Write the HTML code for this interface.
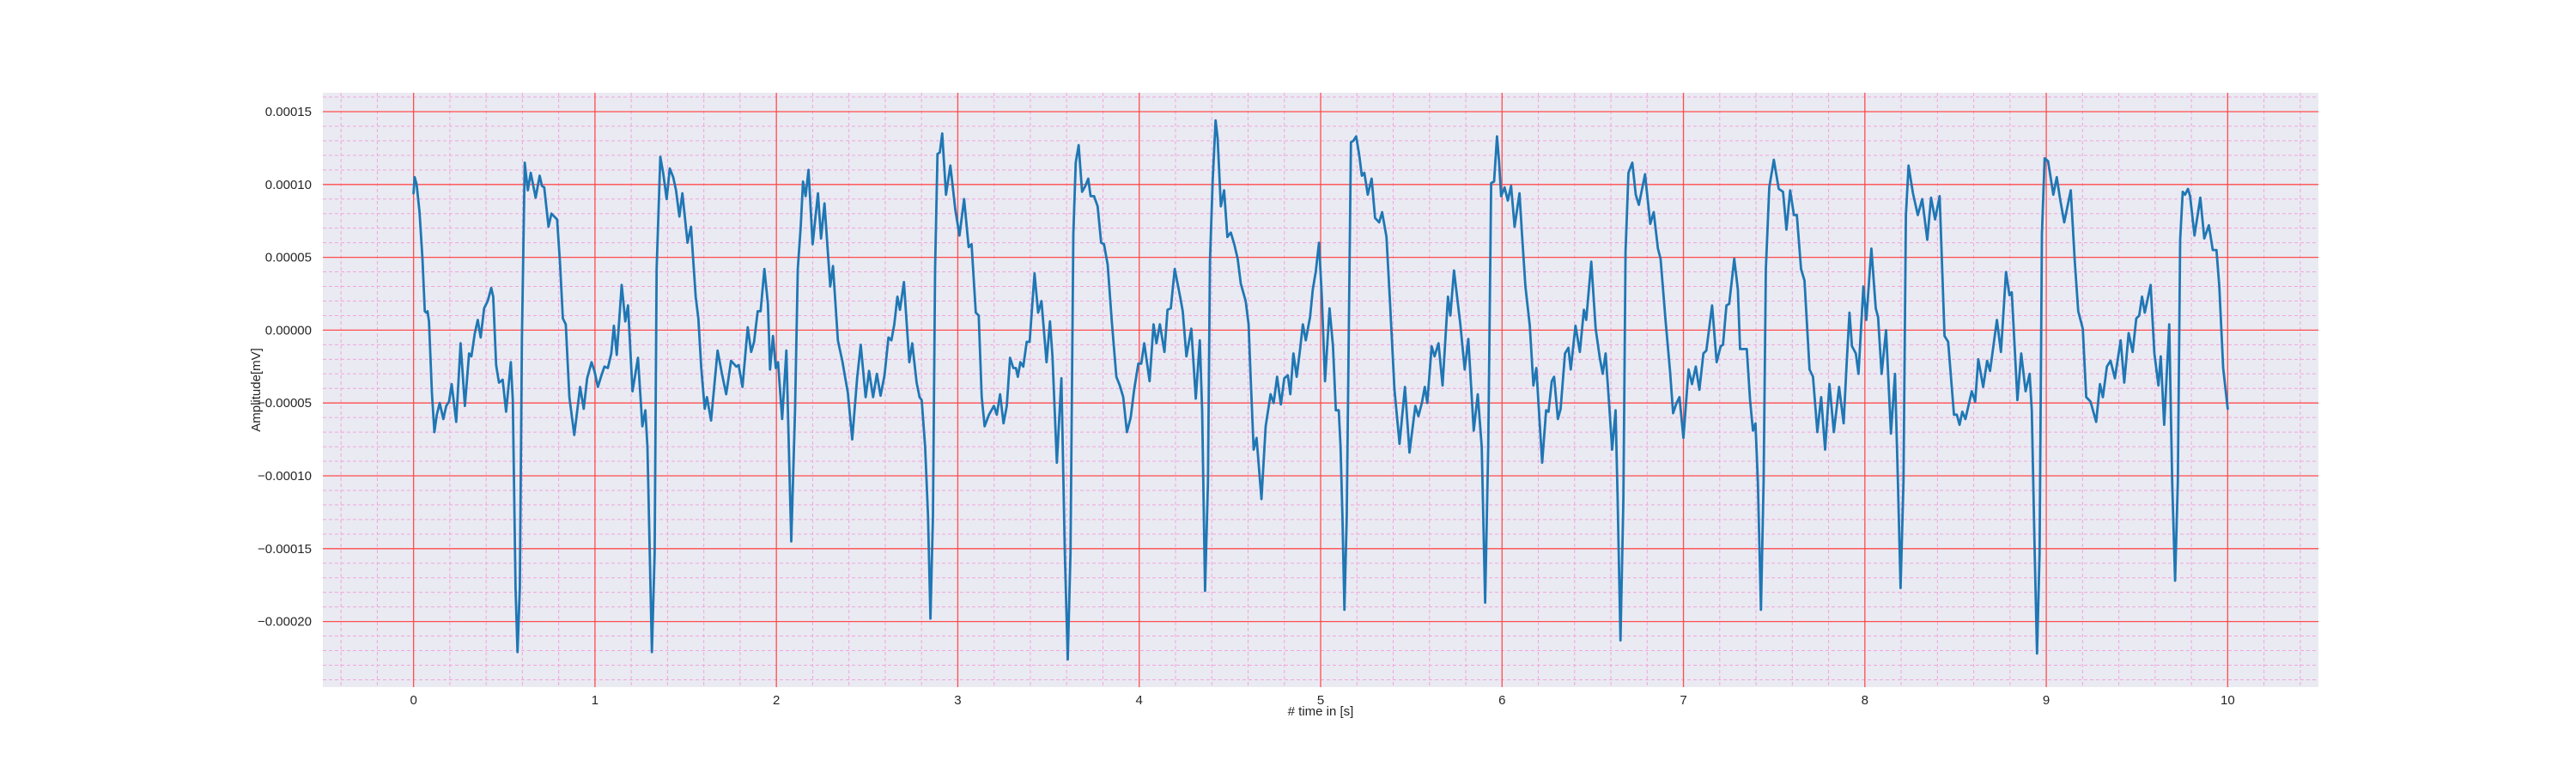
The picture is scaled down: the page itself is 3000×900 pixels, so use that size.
<!DOCTYPE html>
<html><head><meta charset="utf-8"><style>
html,body{margin:0;padding:0;background:#fff;}
svg{display:block;font-family:"Liberation Sans",sans-serif;}
</style></head><body>
<svg id="chart" width="3000" height="900" viewBox="0 0 3000 900" xmlns="http://www.w3.org/2000/svg">
<rect x="0" y="0" width="3000" height="900" fill="#ffffff"/>
<rect x="376" y="108" width="2324" height="692" fill="#eaeaf2"/>
<g id="minor-grid"></g>
<g id="major-grid"></g>
<g id="series"></g>
<g id="xticks"></g>
<g id="yticks"></g>
<text x="1538" y="833" font-size="15" fill="#262626" text-anchor="middle"># time in [s]</text>
<text x="0" y="0" font-size="15" fill="#262626" text-anchor="middle" transform="translate(303,454) rotate(-90)">Amplitude[mV]</text>
</svg>
<script>
const timeSeconds = [0,0.006,0.017,0.033,0.049,0.062,0.07,0.077,0.085,0.101,0.115,0.128,0.144,0.164,0.18,0.196,0.21,0.235,0.259,0.283,0.306,0.319,0.338,0.354,0.37,0.389,0.409,0.428,0.439,0.455,0.471,0.491,0.51,0.536,0.547,0.562,0.573,0.586,0.597,0.613,0.63,0.646,0.673,0.695,0.708,0.72,0.744,0.76,0.791,0.807,0.823,0.839,0.859,0.886,0.918,0.938,0.957,0.981,0.997,1.016,1.033,1.052,1.071,1.09,1.104,1.12,1.147,1.167,1.182,1.207,1.237,1.261,1.278,1.289,1.302,1.314,1.329,1.34,1.36,1.376,1.395,1.412,1.431,1.447,1.465,1.482,1.51,1.529,1.555,1.57,1.586,1.605,1.617,1.64,1.676,1.7,1.723,1.75,1.779,1.792,1.813,1.842,1.861,1.877,1.897,1.913,1.934,1.953,1.965,1.981,1.997,2.009,2.032,2.055,2.082,2.103,2.118,2.134,2.147,2.161,2.177,2.2,2.229,2.246,2.265,2.297,2.312,2.339,2.363,2.394,2.418,2.445,2.465,2.492,2.511,2.533,2.554,2.574,2.596,2.618,2.634,2.65,2.667,2.681,2.703,2.733,2.749,2.773,2.789,2.801,2.82,2.836,2.849,2.863,2.875,2.888,2.901,2.914,2.935,2.959,2.986,3.009,3.035,3.06,3.076,3.099,3.115,3.132,3.148,3.172,3.199,3.215,3.233,3.252,3.27,3.288,3.306,3.32,3.331,3.345,3.361,3.38,3.396,3.423,3.443,3.461,3.489,3.508,3.522,3.546,3.571,3.59,3.606,3.621,3.637,3.65,3.666,3.685,3.703,3.719,3.732,3.751,3.771,3.79,3.806,3.826,3.849,3.874,3.893,3.912,3.932,3.953,3.972,3.995,4.011,4.028,4.057,4.079,4.095,4.114,4.139,4.156,4.174,4.196,4.227,4.24,4.26,4.287,4.312,4.334,4.347,4.363,4.379,4.39,4.405,4.421,4.432,4.45,4.468,4.486,4.505,4.524,4.543,4.56,4.587,4.603,4.614,4.631,4.647,4.674,4.697,4.724,4.741,4.76,4.781,4.8,4.819,4.833,4.85,4.868,4.886,4.902,4.918,4.942,4.957,4.973,4.991,5.006,5.024,5.049,5.068,5.084,5.1,5.11,5.12,5.131,5.144,5.155,5.167,5.181,5.196,5.213,5.227,5.241,5.26,5.281,5.3,5.323,5.339,5.363,5.383,5.407,5.435,5.465,5.49,5.522,5.539,5.558,5.574,5.588,5.612,5.628,5.65,5.672,5.702,5.715,5.735,5.77,5.794,5.814,5.844,5.866,5.888,5.907,5.924,5.94,5.956,5.972,5.984,5.995,6.014,6.032,6.05,6.069,6.096,6.11,6.129,6.153,6.173,6.189,6.203,6.221,6.243,6.256,6.274,6.287,6.308,6.323,6.347,6.366,6.379,6.405,6.429,6.451,6.464,6.492,6.516,6.539,6.555,6.571,6.59,6.607,6.626,6.637,6.653,6.669,6.681,6.697,6.718,6.737,6.754,6.788,6.817,6.836,6.859,6.874,6.902,6.926,6.943,6.962,6.978,7.0,7.028,7.047,7.068,7.088,7.11,7.126,7.158,7.183,7.205,7.218,7.237,7.252,7.28,7.3,7.312,7.349,7.367,7.383,7.397,7.41,7.427,7.442,7.454,7.473,7.498,7.525,7.549,7.568,7.588,7.609,7.625,7.648,7.667,7.695,7.714,7.738,7.759,7.781,7.805,7.829,7.858,7.883,7.899,7.915,7.929,7.95,7.965,7.992,8.008,8.036,8.06,8.073,8.092,8.117,8.144,8.166,8.182,8.197,8.213,8.226,8.241,8.265,8.292,8.316,8.344,8.365,8.387,8.412,8.439,8.459,8.491,8.507,8.522,8.537,8.554,8.589,8.608,8.625,8.652,8.674,8.69,8.728,8.75,8.778,8.797,8.81,8.841,8.862,8.886,8.908,8.92,8.936,8.949,8.963,8.976,8.991,9.01,9.039,9.058,9.075,9.099,9.135,9.157,9.176,9.201,9.22,9.244,9.275,9.296,9.312,9.334,9.354,9.378,9.41,9.43,9.454,9.476,9.496,9.512,9.528,9.543,9.575,9.596,9.618,9.631,9.65,9.678,9.694,9.71,9.725,9.738,9.752,9.765,9.781,9.793,9.817,9.849,9.871,9.896,9.918,9.938,9.954,9.975,10.0];
const amplitudeE5 = [9.4,10.5,10.0,8.1,4.9,1.3,1.2,1.3,0.6,-4.3,-7.0,-5.8,-5.0,-6.1,-5.2,-4.9,-3.7,-6.3,-0.9,-5.2,-1.6,-1.8,-0.2,0.7,-0.5,1.5,2.0,2.9,2.3,-2.4,-3.6,-3.4,-5.6,-2.2,-4.8,-17.7,-22.1,-17.7,-0.7,11.5,9.6,10.8,9.1,10.6,9.9,9.8,7.1,8.0,7.6,4.7,0.8,0.4,-4.6,-7.2,-3.9,-5.4,-3.3,-2.2,-2.8,-3.9,-3.2,-2.5,-2.6,-1.6,0.3,-1.7,3.1,0.6,1.7,-4.2,-1.9,-6.6,-5.5,-8.0,-15.3,-22.1,-15.3,4.2,11.9,10.8,9.0,11.1,10.5,9.6,7.8,9.4,6.0,7.1,2.3,0.8,-2.6,-5.4,-4.6,-6.2,-1.4,-3.0,-4.4,-2.1,-2.5,-2.4,-3.9,0.2,-1.5,-0.8,1.3,1.3,4.2,1.8,-2.7,-0.4,-2.6,-2.2,-6.1,-1.4,-14.5,-5.5,4.2,7.1,10.2,9.2,11.0,5.9,9.4,6.3,8.7,3.0,4.4,-0.7,-2.1,-4.3,-7.5,-3.3,-1.0,-4.6,-2.8,-4.6,-3.0,-4.5,-3.1,-0.5,-0.7,0.4,2.3,1.4,3.3,-2.2,-0.9,-3.6,-4.6,-4.8,-8.0,-12.8,-19.8,-12.8,4.2,12.1,12.2,13.5,9.3,11.3,8.3,6.5,9.0,5.7,5.9,1.2,1.0,-4.6,-6.6,-5.8,-5.2,-5.8,-4.4,-6.4,-5.2,-1.9,-2.6,-2.6,-3.2,-2.2,-2.5,-0.8,-0.8,3.9,1.2,2.0,-2.2,0.6,-1.8,-9.1,-3.3,-15.3,-22.6,-15.3,6.6,11.5,12.7,9.5,9.9,10.4,9.2,9.2,8.5,6.0,5.9,4.5,0.6,-3.2,-3.8,-4.6,-7.0,-6.0,-4.1,-2.3,-2.3,-0.9,-3.5,0.4,-0.9,0.4,-1.5,1.4,1.5,4.2,2.2,1.3,-1.8,0.1,-4.7,-0.7,-5.5,-17.9,-10.4,4.7,10.3,14.4,13.2,8.5,9.6,6.4,6.7,5.9,4.9,3.2,2.0,0.4,-3.1,-8.2,-7.4,-11.6,-6.6,-4.4,-5.0,-3.2,-5.1,-3.3,-3.1,-4.4,-1.6,-3.2,-1.4,0.4,-0.7,0.9,2.8,4.0,6.0,2.4,-3.5,1.5,-1.1,-5.5,-5.5,-8.0,-12.8,-19.2,-12.8,-0.7,12.9,13.0,13.3,12.0,10.6,10.8,9.3,10.4,7.7,7.4,8.1,6.4,1.8,-4.1,-7.8,-3.9,-8.4,-5.2,-5.9,-5.0,-3.9,-5.0,-1.1,-1.8,-0.9,-3.8,2.3,1.0,4.1,0.4,-2.7,-0.6,-6.9,-4.4,-8.0,-18.7,-8.0,10.1,10.2,13.3,11.5,9.2,9.8,8.9,9.9,7.1,9.4,6.6,3.0,0.3,-3.8,-2.6,-5.5,-9.1,-5.5,-5.6,-3.5,-3.2,-6.1,-5.4,-1.6,-1.2,-2.7,0.3,-1.5,1.4,0.7,4.7,0.1,-1.9,-3.0,-1.6,-5.0,-8.2,-5.5,-11.6,-21.3,-11.6,5.4,10.8,11.5,9.3,8.6,10.7,7.3,8.1,5.6,4.9,0.6,-2.8,-5.7,-5.0,-4.6,-7.4,-2.7,-3.7,-2.5,-4.1,-1.6,-1.4,1.7,-2.2,-1.1,-1.0,1.7,1.8,4.9,2.8,-1.3,-1.3,-4.8,-6.9,-6.4,-10.4,-19.2,-10.4,4.2,9.8,11.7,9.7,9.5,6.9,9.6,7.9,7.9,4.2,3.4,-2.7,-3.2,-7.0,-4.6,-8.2,-3.7,-7.0,-3.9,-6.4,-2.4,1.2,-1.1,-1.6,-3.0,3.0,0.7,5.6,1.5,0.9,-3.0,0.0,-7.1,-3.0,-10.4,-17.7,-10.4,7.9,11.3,9.4,7.9,9.0,6.2,9.1,7.6,9.2,-0.4,-0.8,-5.8,-5.8,-6.5,-5.6,-6.1,-4.2,-4.9,-2.0,-3.9,-2.1,-2.8,0.7,-1.5,4.0,2.4,2.6,-4.8,-1.6,-4.2,-3.0,-5.5,-15.3,-22.2,-15.3,6.6,11.8,11.6,9.3,10.5,9.1,7.4,9.6,4.7,1.3,0.1,-4.6,-4.9,-6.3,-3.7,-4.6,-2.5,-2.1,-3.3,-0.7,-3.6,-0.2,-1.5,0.8,1.0,2.3,1.2,3.1,-1.6,-3.8,-1.8,-6.5,0.4,-10.4,-17.2,-10.4,6.2,9.5,9.3,9.7,9.2,6.5,9.1,6.3,7.2,5.5,5.5,3.0,-2.6,-5.4];
const amplitudeScale = 1e-5;
const xTickValues = [0,1,2,3,4,5,6,7,8,9,10];
const yTickValues = [0.00015,0.0001,0.00005,0,-0.00005,-0.0001,-0.00015,-0.0002];
const yTickLabels = ["0.00015","0.00010","0.00005","0.00000","\u22120.00005","\u22120.00010","\u22120.00015","\u22120.00020"];

const NS="http://www.w3.org/2000/svg";
const PL=376,PR=2700,PT=108,PB=800;
const XMIN=-0.5,XMAX=10.5;
const YMAX=(384.4-PT)/1696000, YMIN=-(PB-384.4)/1696000;
function xs(t){return PL+(t-XMIN)/(XMAX-XMIN)*(PR-PL);}
function ys(v){return PT+(YMAX-v)/(YMAX-YMIN)*(PB-PT);}
function mk(tag,attrs,parent){const e=document.createElementNS(NS,tag);for(const k in attrs)e.setAttribute(k,attrs[k]);parent.appendChild(e);return e;}

const minor=document.getElementById('minor-grid');
for(let i=-2;i<=52;i++){const t=i*0.2;if(i%5===0)continue;const x=xs(t);if(x<PL||x>PR)continue;
 const l=mk('line',{x1:x,x2:x,y1:PT,y2:PB,stroke:'#f0a6dc','stroke-width':1,'stroke-dasharray':'4,3'},minor);
 
 }
for(let i=-24;i<=16;i++){if(i%5===0)continue;const y=ys(i*1e-5);if(y<PT||y>PB)continue;
 const l=mk('line',{x1:PL,x2:PR,y1:y,y2:y,stroke:'#f0a6dc','stroke-width':1,'stroke-dasharray':'4,3'},minor);
 
 }
const major=document.getElementById('major-grid');
const xt=document.getElementById('xticks');
xTickValues.forEach(t=>{const x=xs(t);
 const l=mk('line',{x1:x,x2:x,y1:PT,y2:PB,stroke:'#ff4d4d','stroke-width':1.3},major);
 
 
 const tx=mk('text',{x:x,y:PB+20,'font-size':15,fill:'#262626','text-anchor':'middle'},xt);
 tx.textContent=String(t);
 
 });
const yt=document.getElementById('yticks');
yTickValues.forEach((v,i)=>{const y=ys(v);
 const l=mk('line',{x1:PL,x2:PR,y1:y,y2:y,stroke:'#ff4d4d','stroke-width':1.3},major);
 
 
 const tx=mk('text',{x:PL-13,y:y+5,'font-size':15,fill:'#262626','text-anchor':'end'},yt);
 tx.textContent=yTickLabels[i];
 
 });
const pts=timeSeconds.map((t,i)=>xs(t).toFixed(1)+','+ys(amplitudeE5[i]*amplitudeScale).toFixed(1)).join(' ');
const line=mk('polyline',{points:pts,fill:'none',stroke:'#1f77b4','stroke-width':2.8,'stroke-linejoin':'round','stroke-linecap':'round'},document.getElementById('series'));


</script>
</body></html>
